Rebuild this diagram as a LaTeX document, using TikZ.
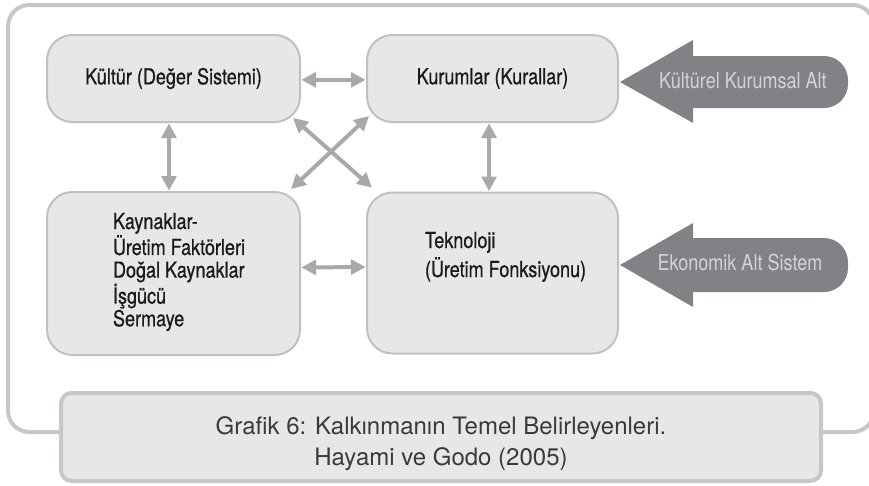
\documentclass[tikz,border=0pt]{standalone}
\usepackage{fontspec}
\setmainfont{TeX Gyre Heros}
\newfontfamily\cond[FakeStretch=0.82]{TeX Gyre Heros}
\newfontfamily\condb[FakeStretch=0.82,FakeBold=0.6]{TeX Gyre Heros}
\usetikzlibrary{arrows.meta}
\definecolor{boxfill}{HTML}{E6E7E9}
\definecolor{boxline}{HTML}{BFC0C2}
\definecolor{framecol}{HTML}{C6C7C9}
\definecolor{arrowcol}{HTML}{A7A9AC}
\definecolor{bigarrow}{HTML}{808285}
\definecolor{bigtext}{HTML}{D1D3D4}
\definecolor{captext}{HTML}{3A3A3C}
\begin{document}
\begin{tikzpicture}[x=0.75pt,y=-0.75pt,
  lbl/.style={font=\condb\fontsize{16.5}{18}\selectfont, text=black!90, inner sep=0pt, outer sep=0pt},
  pbox/.style={lbl, draw=boxline, line width=1.5pt, fill=boxfill, rounded corners=19pt},
  dbl/.style={draw=arrowcol, line width=3pt,
    {Triangle[length=11pt,width=11pt]}-{Triangle[length=11pt,width=11pt]},
    shorten <=1pt, shorten >=1pt},
  bigar/.style={fill=bigarrow},
  bigtxt/.style={font=\cond\fontsize{16.5}{18}\selectfont, text=bigtext, inner sep=0pt},
  captxt/.style={font=\fontsize{18}{23.25}\selectfont, text=captext, inner sep=0pt},
]
\useasboundingbox (0,0) rectangle (869,486);
\clip (0,0) rectangle (869,486);
% outer frame
\draw[draw=framecol, line width=3pt, rounded corners=16pt] (8,5) rectangle (874,432);
% boxes
\node[pbox, minimum width=189.75pt, minimum height=65.25pt] (kul) at (173.5,78.5) {Kültür (Değer Sistemi)};
\node[pbox, minimum width=188.25pt, minimum height=65.25pt] (kur) at (492.5,78.5) {Kurumlar (Kurallar)};
\node[pbox, minimum width=189.75pt, minimum height=122.25pt] (kay) at (173.5,273.5) {};
\node[pbox, minimum width=188.25pt, minimum height=120.75pt] (tek) at (492.5,273) {};
\node[lbl, anchor=base west] (kaytxt) at (113,229) {\vtop{\baselineskip=17pt\hbox{Kaynaklar-}\hbox{Üretim Faktörleri}\hbox{Doğal Kaynaklar}\hbox{İşgücü}\hbox{Sermaye}}};
\node[lbl, anchor=base west] (tektxt) at (425,248) {\vtop{\baselineskip=21.75pt\hbox{Teknoloji}\hbox{(Üretim Fonksiyonu)}}};
% small double arrows
\draw[dbl] ([yshift=-1pt]kul.east) -- ([yshift=-1pt]kur.west);
\draw[dbl] ([xshift=-3.4pt]kul.south) -- ([xshift=-3.4pt]kay.north);
\draw[dbl] ([xshift=-2.6pt]kur.south) -- ([xshift=-2.6pt]tek.north);
\draw[dbl] ([yshift=4.5pt]kay.east) -- ([yshift=4.5pt]tek.west);
\draw[dbl] ([shift={(-8,-5)}]kul.south east) -- ([shift={(6,-4)}]tek.north west);
\draw[dbl] ([shift={(3,-7)}]kur.south west) -- ([shift={(-10,-2)}]kay.north east);
% big arrows
\fill[bigar] (693,56) -- (824,56) arc[start angle=90,end angle=0,radius=18pt] -- (848,84)
  arc[start angle=0,end angle=-90,radius=18pt] -- (693,108) -- (693,123) -- (620,82) -- (693,40) -- cycle;
\node[bigtxt, anchor=base] (kkt) at (743,88) {Kültürel Kurumsal Alt};
\fill[bigar] (693,238) -- (824,238) arc[start angle=90,end angle=0,radius=18pt] -- (848,268)
  arc[start angle=0,end angle=-90,radius=18pt] -- (693,292) -- (693,307) -- (620,265) -- (693,223) -- cycle;
\node[bigtxt, anchor=base] (eas) at (740,270) {Ekonomik Alt Sistem};
% caption
\node[draw=framecol, line width=3pt, fill=boxfill, rounded corners=8pt, minimum width=570pt, minimum height=66pt, inner sep=0pt] (cap) at (441,437) {};
\node[captxt, anchor=base] (captext) at (441,434) {\vtop{\baselineskip=23.25pt\halign{\hfil#\hfil\cr Grafik 6: Kalkınmanın Temel Belirleyenleri.\cr Hayami ve Godo (2005)\cr}}};
\end{tikzpicture}
\end{document}
